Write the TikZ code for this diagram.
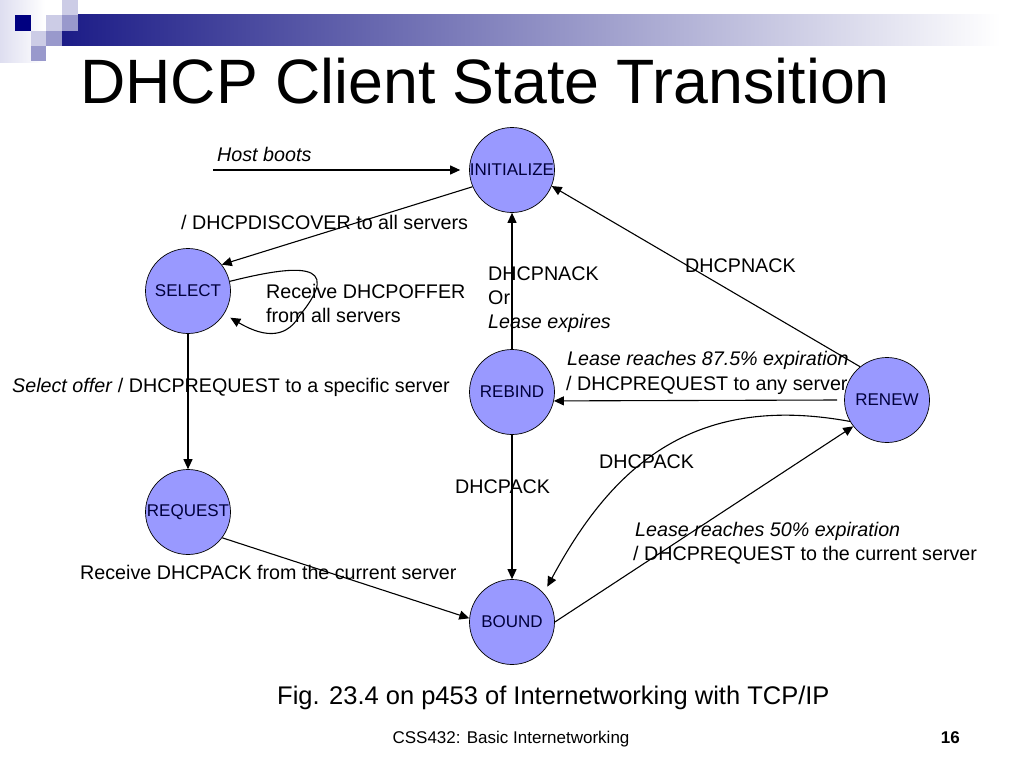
\documentclass[tikz,border=0pt]{standalone}
\usepackage{fontspec}
\setmainfont{Liberation Sans}
\usetikzlibrary{arrows.meta}
\definecolor{statefill}{RGB}{153,153,255}
\definecolor{statetext}{RGB}{0,0,60}
\definecolor{navy}{RGB}{0,0,128}
\definecolor{barnavy}{RGB}{28,28,135}
\definecolor{sqlight}{RGB}{204,204,230}
\definecolor{sqmid}{RGB}{153,153,204}
\definecolor{faint}{RGB}{222,222,240}
\begin{document}
\begin{tikzpicture}[x=1pt,y=-1pt,
  state/.style={circle, draw=black, line width=0.7pt, fill=statefill, minimum size=85pt, inner sep=0pt, font=\fontsize{17}{19}\selectfont, text=statetext},
  lbl/.style={anchor=base west, inner sep=0pt, font=\fontsize{19.7}{23}\selectfont},
  conn/.style={line width=1.1pt, -{Triangle[length=10pt,width=9pt]}},
  sq/.style={draw=none}
]
\useasboundingbox (0,0) rectangle (1024,768);
% decoration
\shade[left color=faint, right color=white] (0,0) rectangle (45,62);
\shade[left color=barnavy, right color=white] (62,15) rectangle (1000,46);
\fill[sqlight] (62,0) rectangle (77.5,15);
\fill[navy] (15,15) rectangle (31,31);
\fill[sqlight] (46,15) rectangle (62,31);
\fill[sqmid] (62,15) rectangle (77.5,31);
\fill[sqlight] (31,31) rectangle (46,46);
\fill[sqmid] (46,31) rectangle (62,46);
\fill[sqmid] (31,46) rectangle (46,61);
% title
\node[anchor=base west, inner sep=0pt, font=\fontsize{62.7}{70}\selectfont] (title) at (80,103) {DHCP Client State Transition};
% states
\node[state] (init) at (512,170) {INITIALIZE};
\node[state] (select) at (188,291) {SELECT};
\node[state] (request) at (188,512) {REQUEST};
\node[state] (rebind) at (512,392) {REBIND};
\node[state] (renew) at (887,400) {RENEW};
\node[state] (bound) at (512,622) {BOUND};
% labels
\node[lbl] (hostlbl) at (217,161) {\itshape Host boots};
\node[lbl] (disc) at (181,229) {/ DHCPDISCOVER to all servers};
\node[lbl] (offer1) at (266,298) {Receive DHCPOFFER};
\node[lbl] (offer2) at (266,322) {from all servers};
\node[lbl] (selreq) at (12,392) {\textit{Select offer} / DHCPREQUEST to a specific server};
\node[lbl] (nack1) at (488,280) {DHCPNACK};
\node[lbl] (nack2) at (488,304) {Or};
\node[lbl] (nack3) at (488,328) {\itshape Lease expires};
\node[lbl] (nackr) at (685,272) {DHCPNACK};
\node[lbl] (rebl1) at (567,365) {\itshape Lease reaches 87.5\% expiration};
\node[lbl] (rebl2) at (566,390) {/ DHCPREQUEST to any server};
\node[lbl] (ackl) at (455,493) {DHCPACK};
\node[lbl] (ackr) at (599,468) {DHCPACK};
\node[lbl] (renl1) at (635,536) {\itshape Lease reaches 50\% expiration};
\node[lbl] (renl2) at (633,560) {/ DHCPREQUEST to the current server};
\node[lbl] (recack) at (80,579) {Receive DHCPACK from the current server};
% connectors
\coordinate (hb) at (213,170);
\draw[conn, shorten >=9pt] (hb) -- (init.west);
\draw[conn] (init.203) -- (select.38);
\draw[conn] (select.13) .. controls (295,265) and (345,260) .. (300,315)
  .. controls (288,336) and (268,340) .. ([shift={(6pt,-4pt)}]select.-32);
\draw[conn] (select.south) -- (request.north);
\draw[conn] (request.-37) -- (bound.175);
\draw[conn] (rebind.north) -- (init.south);
\draw[conn] (rebind.south) -- (bound.north);
\draw[conn] (renew.129) -- (init.-22);
\draw[conn] ([xshift=-7pt]renew.west) -- (rebind.-12);
\draw[conn] (renew.210) .. controls (690,392) and (610,470) .. ([shift={(5pt,5pt)}]bound.45);
\draw[conn] (bound.east) -- (renew.218);
% footer
\node[anchor=base west, inner sep=0pt, font=\fontsize{25.5}{30}\selectfont] (caption) at (277,704) {Fig. 23.4 on p453 of Internetworking with TCP/IP};
\node[anchor=base, inner sep=0pt, font=\fontsize{17}{20}\selectfont] (footer) at (511,743) {CSS432: Basic Internetworking};
\node[anchor=base east, inner sep=0pt, font=\fontsize{17}{20}\selectfont\bfseries] (pagenum) at (960,743) {16};
\end{tikzpicture}
\end{document}
